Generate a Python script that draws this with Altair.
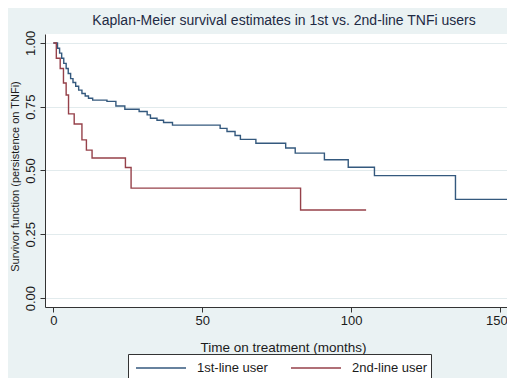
import altair as alt
import pandas as pd

title_text = "Kaplan-Meier survival estimates in 1st vs. 2nd-line TNFi users"
series_names = ["1st-line user", "2nd-line user"]

first_time = [0, 1.4, 2.1, 2.8, 3.5, 4.3, 5.0, 5.8, 6.6, 7.5, 8.5, 9.6, 10.7, 11.8, 13.2,
              18.0, 21.0, 24.0, 28.8, 31.5, 32.6, 34.8, 37.0, 40.0, 56.0, 58.3, 61.0,
              62.8, 68.0, 78.0, 81.2, 91.0, 99.0, 107.8, 135.0, 156.0]
first_surv = [1.0, 0.979, 0.960, 0.940, 0.920, 0.900, 0.880, 0.860, 0.845, 0.830, 0.815,
              0.802, 0.792, 0.783, 0.776, 0.771, 0.753, 0.740, 0.731, 0.718, 0.705, 0.697,
              0.688, 0.678, 0.665, 0.653, 0.637, 0.622, 0.607, 0.588, 0.568, 0.542, 0.513,
              0.480, 0.387, 0.387]

second_time = [0, 1.0, 2.3, 3.4, 4.3, 5.1, 7.0, 9.6, 11.1, 13.0, 24.2, 26.1, 83.0, 105.0]
second_surv = [1.0, 0.94, 0.90, 0.843, 0.796, 0.722, 0.682, 0.62, 0.58, 0.549, 0.512,
               0.431, 0.345, 0.345]

x_ticks = [0, 50, 100, 150]
y_ticks = [0.0, 0.25, 0.5, 0.75, 1.0]

rows = []
for name, ts, ss in zip(series_names, [first_time, second_time], [first_surv, second_surv]):
    for i, (t, s) in enumerate(zip(ts, ss)):
        rows.append({"series": name, "time": t, "surv": s, "order": i})
df = pd.DataFrame(rows)

FONT = "Liberation Sans"
BG = "#eaf2f3"
INK = "#1b1b1b"

chart = alt.Chart(df).mark_line(interpolate="step-after", strokeWidth=1.4, clip=True).encode(
    x=alt.X("time:Q",
            scale=alt.Scale(domain=[-2.8, 152.3], nice=False, zero=False),
            axis=alt.Axis(values=x_ticks, title="Time on treatment (months)", grid=False,
                          labelFontSize=13, titleFontSize=13.5, labelFont=FONT, titleFont=FONT,
                          labelColor=INK, titleColor=INK, titleFontWeight="normal",
                          labelAlign=alt.condition("datum.value == 150",
                                                   alt.value("right"), alt.value("center")),
                          labelOffset=alt.condition("datum.value == 150",
                                                    alt.value(7), alt.value(0)),
                          domainColor="#333333", tickColor="#333333", tickSize=5,
                          labelPadding=2, titleX=238, titleY=44, titleAlign="center",
                          titleBaseline="alphabetic")),
    y=alt.Y("surv:Q",
            scale=alt.Scale(domain=[-0.035, 1.035], nice=False, zero=False),
            axis=alt.Axis(values=y_ticks, format=".2f",
                          title="Survivor function (persistence on TNFi)",
                          grid=True, gridColor="#e2ebed", gridWidth=1,
                          labelAngle=270, labelAlign="center", labelBaseline="bottom",
                          labelFontSize=13, labelFont=FONT, labelColor=INK, labelPadding=3,
                          titleFontSize=11, titleFont=FONT, titleColor=INK,
                          titleFontWeight="normal", titleAngle=270, titleX=-30, titleY=142,
                          titleAlign="center", titleBaseline="middle",
                          domainColor="#333333", tickColor="#333333", tickSize=5)),
    color=alt.Color("series:N",
                    scale=alt.Scale(domain=series_names, range=["#34597e", "#96414a"]),
                    legend=alt.Legend(orient="none", legendX=83, legendY=320,
                                      direction="horizontal", title=None,
                                      symbolType="M-2.5,0H2.5", symbolSize=400,
                                      symbolStrokeWidth=1.4, symbolOffset=19,
                                      labelOffset=25, columnPadding=18, padding=3,
                                      fillColor="white", strokeColor="#333333",
                                      labelFontSize=13, labelFont=FONT, labelColor=INK)),
    order="order:Q",
).properties(
    width=462,
    height=273,
    background=BG,
    padding={"left": 37, "top": 26, "right": 0, "bottom": 71},
    autosize=alt.AutoSizeParams(type="none"),
    title=alt.TitleParams(title_text, font=FONT, fontSize=14, fontWeight="normal",
                          color="#1e2a44", anchor="middle", baseline="alphabetic",
                          offset=6, dx=8, dy=15),
).configure_view(fill="white", stroke=None)

chart.save("out.html", embed_options={"renderer": "svg", "actions": False})
